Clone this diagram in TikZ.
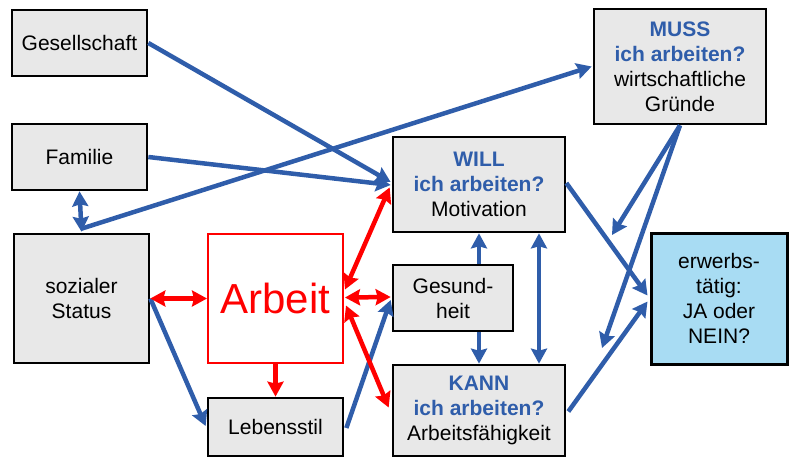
\documentclass[tikz,border=0pt]{standalone}
\usepackage{fontspec}
\setmainfont{Liberation Sans}
\usetikzlibrary{arrows.meta,calc}
\definecolor{myblue}{HTML}{2F5DAA}
\definecolor{boxgray}{HTML}{E8E8E8}
\definecolor{lightblue}{HTML}{A8DCF3}
\definecolor{myred}{HTML}{FF0000}
\tikzset{
  myhead/.tip={Stealth[length=15pt,width=16pt,inset=2pt]},
  box/.style={draw=black, line width=2.7pt, fill=boxgray, inner sep=0pt, align=center,
    font=\fontsize{21}{25}\selectfont},
  bluearr/.style={line width=4.5pt, draw=myblue, fill=myblue},
  redarr/.style={line width=4.5pt, draw=myred, fill=myred},
}
\newcommand{\bq}[1]{\textcolor{myblue}{\bfseries #1}}
\begin{document}
\begin{tikzpicture}[x=1pt,y=-1pt]
\useasboundingbox (0,0) rectangle (792,458);
% boxes
\node[box, minimum width=135pt, minimum height=66pt] (gesell) at (79.5,43) {Gesellschaft};
\node[box, minimum width=135pt, minimum height=66pt] (familie) at (79.5,157) {Familie};
\node[box, minimum width=135pt, minimum height=129pt] (status) at (81.5,298.5) {sozialer\\Status};
\node[draw=myred, line width=2pt, fill=white, text=myred, inner sep=0pt,
  minimum width=135pt, minimum height=129pt, font=\fontsize{42}{48}\selectfont] (arbeit) at (275.5,298.5) {Arbeit};
\node[box, minimum width=135pt, minimum height=58pt] (leben) at (275.5,427) {Lebensstil};
\node[box, minimum width=120pt, minimum height=66pt] (gesund) at (453,298) {Gesund-\\heit};
\node[box, minimum width=172pt, minimum height=95pt] (will) at (479,184.5) {\bq{WILL}\\\bq{ich arbeiten?}\\Motivation};
\node[box, minimum width=172pt, minimum height=91pt] (kann) at (479,410.5) {\bq{KANN}\\\bq{ich arbeiten?}\\Arbeitsfähigkeit};
\node[box, minimum width=172pt, minimum height=115pt] (muss) at (680,66.5) {\bq{MUSS}\\\bq{ich arbeiten?}\\wirtschaftliche\\Gründe};
\node[box, line width=3pt, fill=lightblue, minimum width=136pt, minimum height=131pt] (erwerb) at (719,298.5) {erwerbs-\\tätig:\\JA oder\\NEIN?};
\coordinate (m1) at (612,235);
\coordinate (m2) at (602,348);
% blue connectors
\draw[bluearr, -myhead] (gesell.east) -- ($(will.west)+(-1,-2.5)$);
\draw[bluearr, -myhead] (familie.east) -- ($(will.west)+(-1,0.5)$);
\draw[bluearr, -myhead] ($(status.north)+(0,-4)$) -- ($(muss.west)+(-1,0)$);
\draw[bluearr, myhead-myhead] (familie.south) -- ($(status.north)+(0,-1)$);
\draw[bluearr, -myhead] (status.east) -- ($(leben.west)+(-1,-1)$);
\draw[bluearr, -myhead] ($(leben.east)+(2,1)$) -- ($(gesund.west)+(-1,2)$);
\draw[bluearr, -myhead] (will.south |- gesund.north) -- (will.south);
\draw[bluearr, -myhead] (kann.north |- gesund.south) -- (kann.north);
\draw[bluearr, myhead-myhead] ($(will.south)+(60,0)$) -- ($(kann.north)+(60,0)$);
\draw[bluearr, -myhead] ($(will.east)+(0,-1.5)$) -- ($(erwerb.west)+(-2,-3)$);
\draw[bluearr, -myhead] ($(kann.east)+(2,1)$) -- ($(erwerb.west)+(-2,3)$);
\draw[bluearr, -myhead] (muss.south) -- (m1);
\draw[bluearr, -myhead] (muss.south) -- (m2);
% red connectors
\draw[redarr, myhead-myhead] (status.east) -- (arbeit.west);
\draw[redarr, -myhead] (arbeit.south) -- (leben.north);
\draw[redarr, myhead-myhead] ($(arbeit.east)+(1,-1)$) -- ($(gesund.west)+(-1,-1)$);
\draw[redarr, myhead-myhead] ($(arbeit.east)+(1,-9)$) -- ($(will.west)+(-2,3)$);
\draw[redarr, myhead-myhead] ($(arbeit.east)+(2,7)$) -- ($(kann.west)+(-3,-3)$);
\end{tikzpicture}
\end{document}
